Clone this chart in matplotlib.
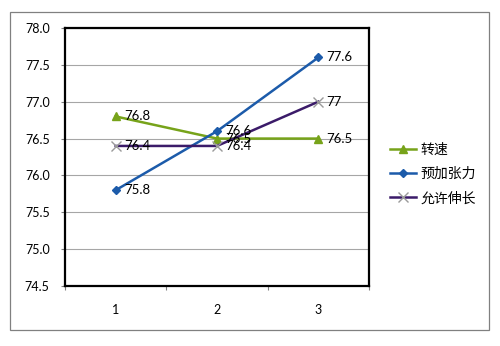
import matplotlib
matplotlib.use("Agg")
import matplotlib.pyplot as plt
from matplotlib.patches import Rectangle

plt.rcParams["font.family"] = ["Lato", "Noto Sans CJK SC", "DejaVu Sans"]

CATEGORIES = [1, 2, 3]
SERIES_NAMES = ["转速", "预加张力", "允许伸长"]
SPEED = [76.8, 76.5, 76.5]
PRETENSION = [75.8, 76.6, 77.6]
ELONGATION = [76.4, 76.4, 77.0]
Y_TICKS = [74.5, 75.0, 75.5, 76.0, 76.5, 77.0, 77.5, 78.0]

LINE_STYLES = [
    dict(color="#77A31A", marker="^", markersize=6, markerfacecolor="#77A31A", markeredgecolor="#77A31A"),
    dict(color="#1C5BAA", marker="D", markersize=4.5, markerfacecolor="#1C5BAA", markeredgecolor="#1C5BAA"),
    dict(color="#3B1B69", marker="x", markersize=7, markerfacecolor="#9A9A9A", markeredgecolor="#9A9A9A",
         markeredgewidth=1.0),
]


def main():
    fig = plt.figure(figsize=(5.0, 3.46), dpi=100)
    fig.patch.set_facecolor("white")

    # chart frame around everything
    fig.patches.append(Rectangle((0.019, 0.046), 0.959, 0.918, transform=fig.transFigure,
                                 fill=False, edgecolor="#808080", linewidth=0.9))

    ax = fig.add_axes([0.13, 0.1734, 0.608, 0.7457])

    for name, values, style in zip(SERIES_NAMES, [SPEED, PRETENSION, ELONGATION], LINE_STYLES):
        ax.plot(CATEGORIES, values, label=name, linewidth=1.8, zorder=3, **style)
        for x, v in zip(CATEGORIES, values):
            ax.annotate(f"{v:g}", (x, v), xytext=(6, 0), textcoords="offset points",
                        ha="left", va="center", fontsize=9.5, color="black", zorder=4)

    ax.set_xlim(0.5, 3.5)
    ax.set_ylim(Y_TICKS[0], Y_TICKS[-1])
    ax.set_yticks(Y_TICKS)
    ax.set_yticklabels([f"{t:.1f}" for t in Y_TICKS], fontsize=9)
    ax.yaxis.grid(True, color="#A6A6A6", linewidth=0.8)
    ax.set_axisbelow(True)

    # category boundaries carry the tick marks, labels sit between them
    ax.set_xticks([0.5, 1.5, 2.5, 3.5])
    ax.set_xticklabels([])
    ax.set_xticks(CATEGORIES, minor=True)
    ax.set_xticklabels([str(c) for c in CATEGORIES], minor=True, fontsize=9)
    ax.tick_params(axis="x", which="minor", length=0, pad=13)
    ax.tick_params(axis="x", which="major", length=3, color="#808080")
    ax.tick_params(axis="y", length=3, color="#808080", pad=8)

    for spine in ax.spines.values():
        spine.set_color("black")
        spine.set_linewidth(1.6)

    fig.legend(loc="upper left", bbox_to_anchor=(0.755, 0.625), frameon=False, fontsize=10,
               handlelength=1.9, handletextpad=0.3, labelspacing=0.8)

    fig.savefig("out.png", dpi=100)


if __name__ == "__main__":
    main()
